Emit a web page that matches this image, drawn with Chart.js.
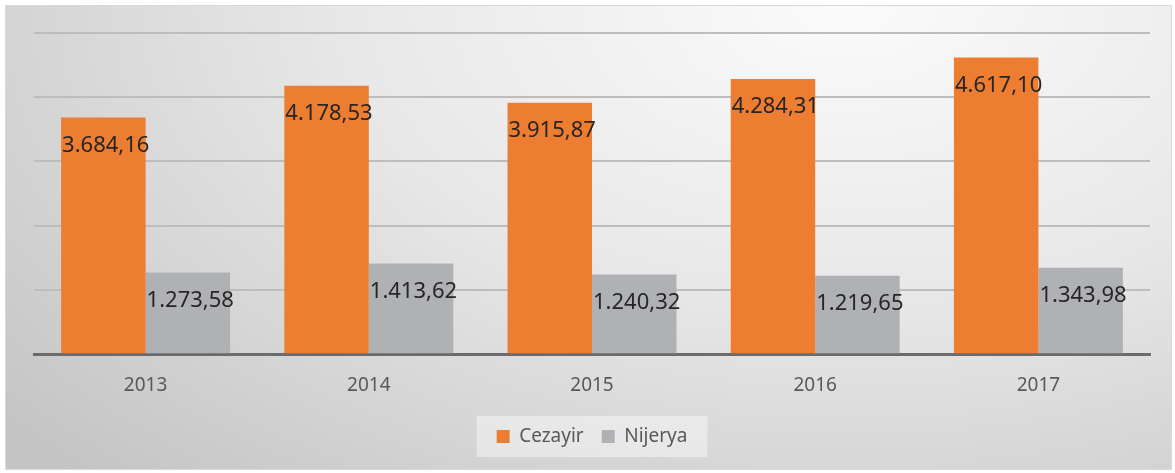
<!DOCTYPE html>
<html>
<head>
<meta charset="utf-8">
<script src="https://cdn.jsdelivr.net/npm/chart.js@4"></script>
<style>
  html, body { margin: 0; padding: 0; background: #ffffff; }
  .graph-container {
    position: absolute;
    left: 5px; top: 5px;
    width: 1165px; height: 463px;
    border: 1px solid #d9d9d9;
    background: radial-gradient(ellipse 95% 140% at 72% 0%, #fbfbfb 0%, #e8e8e8 45%, #c4c4c4 100%);
  }
  canvas { display: block; }
</style>
</head>
<body>
<div class="graph-container">
  <canvas id="canvas" width="1165" height="463"></canvas>
</div>
<script>
const years = ["2013", "2014", "2015", "2016", "2017"];
const cezayir = [3684.16, 4178.53, 3915.87, 4284.31, 4617.10];
const nijerya = [1273.58, 1413.62, 1240.32, 1219.65, 1343.98];
const yTicks = [0, 1000, 2000, 3000, 4000, 5000];

function fmt(v) {
    let parts = v.toFixed(2).split(".");
    return parts[0].replace(/\B(?=(\d{3})+(?!\d))/g, ".") + "," + parts[1];
}

// value labels, drawn at the top-left corner inside each bar
const barLabels = {
    id: "barLabels",
    afterDatasetsDraw(chart) {
        let ctx = chart.ctx;
        ctx.save();
        ctx.font = "22px 'Noto Sans'";
        ctx.fillStyle = "#262626";
        ctx.textAlign = "left";
        ctx.textBaseline = "middle";
        chart.data.datasets.forEach((ds, i) => {
            chart.getDatasetMeta(i).data.forEach((bar, j) => {
                ctx.fillText(fmt(ds.data[j]), bar.x - bar.width / 2 + 1, bar.y + 28);
            });
        });
        ctx.restore();
    }
};

// light box behind the legend
const legendBox = {
    id: "legendBox",
    beforeDraw(chart) {
        let boxes = chart.legend.legendHitBoxes;
        if (!boxes || !boxes.length) return;
        let left = Math.min(...boxes.map(b => b.left));
        let right = Math.max(...boxes.map(b => b.left + b.width));
        let top = Math.min(...boxes.map(b => b.top));
        let bottom = Math.max(...boxes.map(b => b.top + b.height));
        let ctx = chart.ctx;
        ctx.save();
        ctx.fillStyle = "rgba(245, 246, 246, 0.55)";
        ctx.fillRect(left - 20, top - 11, right - left + 40, bottom - top + 22);
        ctx.restore();
    }
};

let canvas = document.getElementById("canvas").getContext("2d");

let chart = new Chart(canvas, {
    type: "bar",
    data: {
        labels: years,
        datasets: [{
            label: "Cezayir",
            data: cezayir,
            backgroundColor: "#ed7d31"
        }, {
            label: "Nijerya",
            data: nijerya,
            backgroundColor: "#b0b1b5"
        }]
    },
    options: {
        responsive: false,
        animation: false,
        categoryPercentage: 0.757,
        barPercentage: 1.0,
        layout: {
            padding: { left: 28, right: 21, top: 27, bottom: 13 }
        },
        scales: {
            x: {
                grid: { display: false },
                border: { color: "#6b6b6b", width: 3 },
                ticks: {
                    color: "#595959",
                    font: { family: "'Noto Sans'", size: 19 },
                    padding: 12
                }
            },
            y: {
                min: 0,
                max: 5000,
                afterBuildTicks: s => { s.ticks = yTicks.map(v => ({ value: v })); },
                afterFit: s => { s.width = 0; },
                ticks: { display: false },
                border: { display: false },
                grid: {
                    color: "#bdbdbd",
                    lineWidth: 2,
                    drawTicks: false
                }
            }
        },
        plugins: {
            legend: {
                position: "bottom",
                labels: {
                    boxWidth: 13,
                    boxHeight: 13,
                    color: "#595959",
                    font: { family: "'Noto Sans'", size: 19 },
                    padding: 18
                }
            },
            tooltip: { enabled: false }
        }
    },
    plugins: [legendBox, barLabels]
});
</script>
</body>
</html>
